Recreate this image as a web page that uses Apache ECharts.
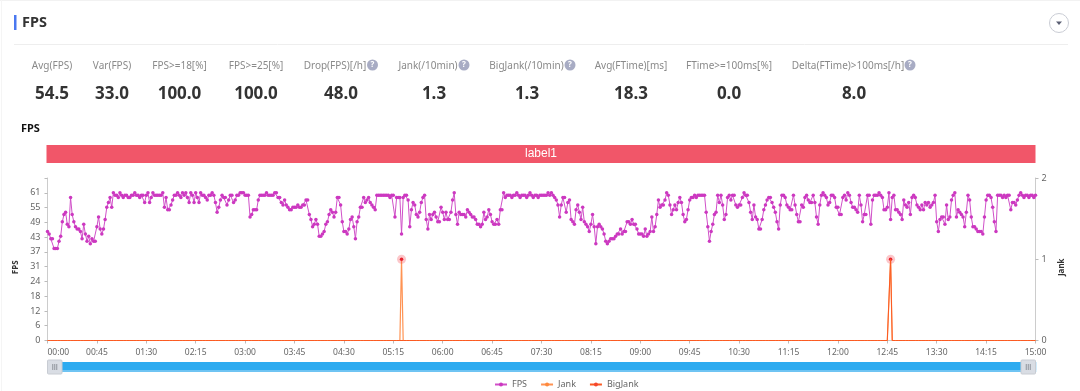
<!DOCTYPE html>
<html>
<head>
<meta charset="utf-8">
<style>html,body{margin:0;padding:0;background:#fff}#c{width:1080px;height:391px}</style>
<script src="https://cdn.jsdelivr.net/npm/echarts@6/dist/echarts.min.js"></script>
</head>
<body>
<div id="c"></div>
<script>
const pageTitle = 'FPS';
const chartTitle = 'FPS';
const statLabels = ['Avg(FPS)','Var(FPS)','FPS>=18[%]','FPS>=25[%]','Drop(FPS)[/h]','Jank(/10min)','BigJank(/10min)','Avg(FTime)[ms]','FTime>=100ms[%]','Delta(FTime)>100ms[/h]'];
const statValues = ['54.5','33.0','100.0','100.0','48.0','1.3','1.3','18.3','0.0','8.0'];
const fpsValues = [
45,44,42,42,38,38,38,41,43,49,
52,53,48,47,59,52,49,47,46,46,
45,42,48,44,41,43,40,42,41,41,
47,51,46,44,46,50,55,57,59,55,
61,60,60,59,61,60,59,60,60,59,
59,60,60,61,60,60,59,60,60,57,
60,61,57,59,61,60,60,60,60,60,
61,55,59,54,54,56,58,60,60,61,
60,59,61,60,61,59,57,61,60,57,
61,59,57,61,60,60,59,58,60,60,
61,60,57,53,55,58,60,59,59,56,
58,60,60,57,58,60,60,61,61,61,
60,60,60,51,52,54,54,54,58,60,
60,60,60,61,60,60,60,60,61,61,
59,59,57,56,58,56,55,54,54,55,
55,55,56,55,55,56,56,58,58,52,
50,47,48,50,48,43,43,44,45,48,
49,52,54,53,51,53,59,59,56,49,
45,45,44,46,50,51,47,42,49,51,
55,55,59,57,58,59,57,56,55,54,
60,60,60,60,60,60,60,60,59,60,
60,51,59,59,59,44,59,60,60,58,
47,54,57,56,52,51,53,57,59,60,
50,46,52,50,52,53,51,49,49,55,
53,50,53,50,50,53,58,61,52,48,
53,52,52,52,51,54,53,52,51,51,
50,48,48,47,48,53,50,51,54,52,
49,48,48,50,48,54,54,61,59,60,
60,60,59,60,60,61,60,59,60,60,
60,59,60,61,60,59,60,60,59,60,
60,60,60,60,61,60,61,60,59,58,
56,51,56,59,59,53,57,58,50,49,
48,54,56,53,50,55,49,48,47,45,
48,52,47,40,47,48,47,46,44,41,
40,41,42,42,42,43,44,44,46,44,
45,45,49,49,48,50,48,48,46,44,
44,44,43,46,43,44,45,51,45,47,
52,58,55,56,56,58,61,60,56,52,
54,56,54,57,59,57,52,49,50,54,
58,59,59,60,59,60,60,60,60,60,
53,47,41,45,48,52,53,60,57,60,
56,50,52,59,60,58,60,60,56,55,
56,56,59,61,60,60,57,53,50,56,
51,50,46,46,50,54,56,58,59,59,
57,55,53,49,46,56,60,60,59,56,
55,54,54,60,56,52,49,49,56,55,
59,60,58,57,57,60,57,51,48,56,
60,61,60,59,56,57,60,60,59,55,
55,52,52,59,60,58,61,60,57,55,
55,54,53,60,56,49,52,52,60,60,
48,58,60,60,60,61,60,59,54,54,
55,61,50,59,60,54,54,53,52,50,
58,56,55,57,52,59,60,59,56,55,
54,56,54,57,56,57,55,56,57,60,
49,45,50,51,51,48,56,50,51,58,
60,61,51,54,53,52,51,47,53,60,
58,51,47,47,46,45,45,45,44,51,
58,60,60,59,55,49,45,60,60,60,
59,60,59,60,60,54,57,57,56,58,
60,61,60,59,60,60,59,60,60,59,
60];
const jankEventTimes = ['05:22:30','12:48:00'];
const bigJankEventTimes = ['12:48:00'];
const labelBands = [['00:00:00','15:00:00','label1']];

const pad = n => String(n).padStart(2,'0');
const categories = fpsValues.map((_,i)=>{
  const s = i*90;
  return pad(Math.floor(s/3600))+':'+pad(Math.floor(s/60)%60)+':'+pad(s%60);
});
const jankValues = categories.map(c=>jankEventTimes.includes(c)?1:0);
const bigJankValues = categories.map(c=>bigJankEventTimes.includes(c)?1:0);

// layout (not data)
const FONT = '"Noto Sans","Open Sans",sans-serif';
const statCenterX = [52,112,179.5,256,335,428,526.5,631,729,848];
const valueCenterX = [52,112,179.5,256,341,434,527,631,729,854];
const helpIconX = [null,null,null,null,372.5,464,570,null,null,910];

const graphics = [
  {type:'line',shape:{x1:0,y1:0.5,x2:1080,y2:0.5},style:{stroke:'#f2f2f2',lineWidth:1},silent:true},
  {type:'line',shape:{x1:1.5,y1:0,x2:1.5,y2:391},style:{stroke:'#f5f5f5',lineWidth:1},silent:true},
  {type:'rect',shape:{x:14,y:15,width:2.5,height:15},style:{fill:'#4a78f0'},silent:true},
  {type:'text',x:22,y:22.5,style:{text:pageTitle,fill:'#333',font:'bold 14.5px '+FONT,textVerticalAlign:'middle'},silent:true},
  {type:'line',shape:{x1:14,y1:44.5,x2:1068,y2:44.5},style:{stroke:'#eeeeee',lineWidth:1},silent:true},
  {type:'circle',shape:{cx:1059,cy:23,r:9.5},style:{fill:'#fff',stroke:'#c9ccd4',lineWidth:1},silent:true},
  {type:'polygon',shape:{points:[[1056,21.5],[1062,21.5],[1059,25]]},style:{fill:'#5a5f73'},silent:true},
  {type:'text',x:21,y:128.5,style:{text:chartTitle,fill:'#111',font:'bold 11px '+FONT,textVerticalAlign:'middle'},silent:true}
];
statLabels.forEach((t,i)=>{
  graphics.push({type:'text',x:statCenterX[i],y:66,style:{text:t,fill:'#8a8a8a',font:'10px '+FONT,textAlign:'center',textVerticalAlign:'middle'},silent:true});
  graphics.push({type:'text',x:valueCenterX[i],y:94,style:{text:statValues[i],fill:'#333',font:'bold 17px '+FONT,textAlign:'center',textVerticalAlign:'middle'},silent:true});
  if(helpIconX[i]!==null){
    graphics.push({type:'circle',shape:{cx:helpIconX[i],cy:65,r:5.5},style:{fill:'#a8acc4'},silent:true});
    graphics.push({type:'text',x:helpIconX[i],y:65,style:{text:'?',fill:'#fff',font:'bold 8px '+FONT,textAlign:'center',textVerticalAlign:'middle'},silent:true});
  }
});
[[47.5,62],[1021,1035.5]].forEach(([a,b])=>{
  graphics.push({type:'rect',z:100,shape:{x:a,y:360,width:b-a,height:14,r:1},style:{fill:'#d9dde4',stroke:'#c8ccd3',lineWidth:1},silent:true});
  [-2,0,2].forEach(d=>graphics.push({type:'line',z:101,shape:{x1:(a+b)/2+d,y1:364,x2:(a+b)/2+d,y2:370},style:{stroke:'#8f949c',lineWidth:1},silent:true}));
});

const chart = echarts.init(document.getElementById('c'));
chart.setOption({
  animation:false,
  textStyle:{fontFamily:FONT},
  graphic:graphics,
  legend:{
    left:489,top:375,itemWidth:12,itemHeight:5,itemGap:13,
    textStyle:{fontSize:9,color:'#666',fontFamily:FONT},
    data:['FPS','Jank','BigJank']
  },
  grid:[
    {left:47.5,right:44.5,top:178,height:162.5},
    {left:47.5,right:44.5,top:145,height:18}
  ],
  xAxis:[
    {type:'category',gridIndex:0,boundaryGap:false,data:categories,
      axisLine:{show:true,lineStyle:{color:'#ccc'}},
      axisTick:{show:true,interval:29,length:3,lineStyle:{color:'#bbb'}},
      axisLabel:{interval:29,fontSize:8.5,color:'#666',margin:8,alignMinLabel:'left',showMinLabel:true,showMaxLabel:true,formatter:v=>v.slice(0,5),fontFamily:FONT}},
    {type:'category',gridIndex:1,boundaryGap:false,data:categories,show:false}
  ],
  yAxis:[
    {type:'value',gridIndex:0,min:0,max:67.1,interval:6.1,name:'FPS',nameLocation:'middle',nameGap:20,
      nameTextStyle:{fontSize:8,fontWeight:'bold',color:'#333',padding:[0,16,0,0],fontFamily:FONT},
      axisLine:{show:true,lineStyle:{color:'#ccc'}},axisTick:{show:true,length:3,lineStyle:{color:'#bbb'}},splitLine:{show:false},
      axisLabel:{fontSize:9,color:'#666',margin:7,fontFamily:FONT,formatter:v=>v>62?'':String(Math.round(v))}},
    {type:'value',gridIndex:0,position:'right',min:0,max:2,interval:1,name:'Jank',nameLocation:'middle',nameGap:15,
      nameTextStyle:{fontSize:8,fontWeight:'bold',color:'#333',padding:[0,16,0,0],fontFamily:FONT},
      axisLine:{show:true,lineStyle:{color:'#ccc'}},axisTick:{show:true,length:3,lineStyle:{color:'#bbb'}},splitLine:{show:false},
      axisLabel:{fontSize:9,color:'#666',margin:6,fontFamily:FONT}},
    {type:'value',gridIndex:1,show:false,min:0,max:1}
  ],
  dataZoom:[{type:'slider',xAxisIndex:[0,1],start:0,end:100,left:47.5,right:44.5,top:362,height:10,
    showDataShadow:false,showDetail:false,brushSelect:false,handleSize:0,moveHandleSize:0,
    borderColor:'transparent',backgroundColor:'#e8f4fc',
    fillerColor:{type:'linear',x:0,y:0,x2:0,y2:1,colorStops:[{offset:0,color:'#6fc4f3'},{offset:0.2,color:'#6fc4f3'},{offset:0.21,color:'#2dabf0'},{offset:1,color:'#2dabf0'}]}
  }],
  series:[
    {name:'label band',type:'custom',xAxisIndex:1,yAxisIndex:2,silent:true,legendHoverLink:false,
      data:labelBands.map(b=>[categories.indexOf(b[0]),categories.indexOf(b[1])]),
      encode:{x:[0,1]},clip:false,
      renderItem:(params,api)=>{
        const a=api.coord([api.value(0),1]);const b=api.coord([api.value(1),0]);
        return {type:'rect',shape:{x:a[0]-1,y:a[1],width:b[0]-a[0]+1,height:b[1]-a[1]},
          style:{fill:'#f15669',text:labelBands[params.dataIndex][2],textFill:'#fff',font:'10px '+FONT,textAlign:'center',textVerticalAlign:'middle'}};
      }},
    {name:'FPS',type:'line',xAxisIndex:0,yAxisIndex:0,data:fpsValues,color:'#cf42c4',
      symbol:'circle',symbolSize:3.5,showSymbol:true,showAllSymbol:true,
      lineStyle:{width:1,color:'#d050c8'},itemStyle:{color:'#cc38c0'},z:3,clip:false},
    {name:'Jank',type:'line',xAxisIndex:0,yAxisIndex:1,data:jankValues,color:'#ff8a3d',
      symbol:'circle',showSymbol:false,lineStyle:{width:1.2,color:'#ff9353'},itemStyle:{color:'#ff8a3d'},z:4,clip:false,
      markPoint:{symbol:'circle',silent:true,label:{show:false},
        data:jankEventTimes.map(t=>({coord:[t,1],symbolSize:9,itemStyle:{color:'rgba(245,70,80,0.3)'}}))
          .concat(jankEventTimes.map(t=>({coord:[t,1],symbolSize:3.5,itemStyle:{color:'#e8202c'}})))}},
    {name:'BigJank',type:'line',xAxisIndex:0,yAxisIndex:1,data:bigJankValues,color:'#f5462d',
      symbol:'none',showSymbol:false,lineStyle:{width:1,color:'#fb5a22'},z:5,clip:false}
  ]
});
</script>
</body>
</html>
